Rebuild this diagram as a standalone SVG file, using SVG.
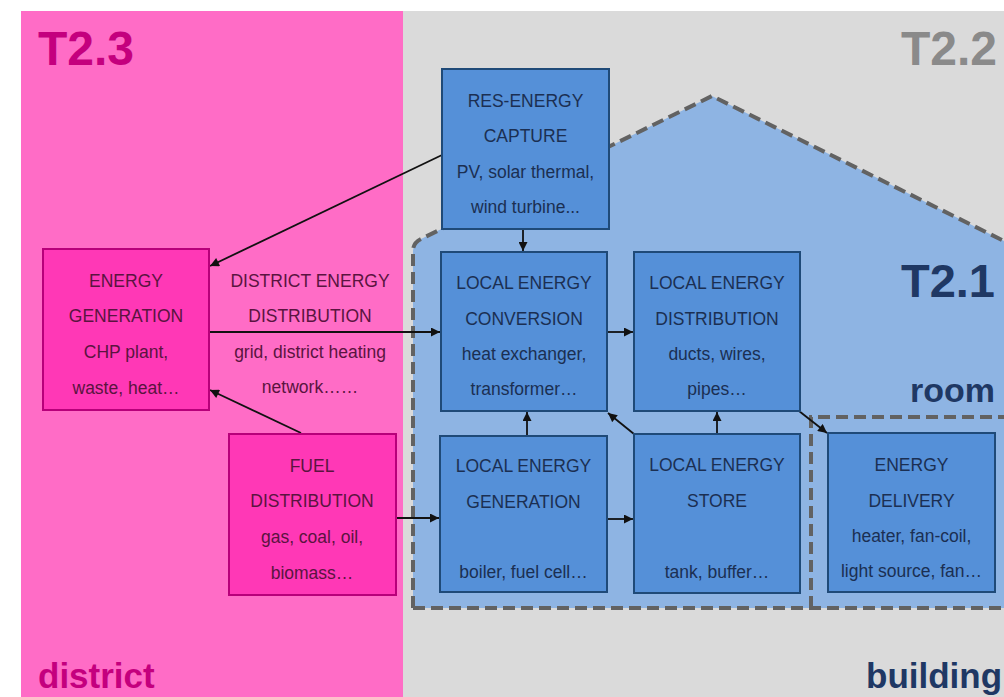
<svg xmlns="http://www.w3.org/2000/svg" width="1004" height="697" viewBox="0 0 1004 697">
<style>
.bt{font-family:"Liberation Sans",Arial,sans-serif;font-size:17.5px;text-anchor:middle}
.blue{fill:#5590d8;stroke:#1f4a78;stroke-width:2}
.pink{fill:#ff38b6;stroke:#b8007a;stroke-width:2}
.btx{fill:#1b2f52}
.ptx{fill:#5a1440}
.big{font-family:"Liberation Sans",Arial,sans-serif;font-weight:bold}
.dash{fill:none;stroke:#626262;stroke-width:4;stroke-dasharray:12 6}
.con{fill:none;stroke:#111;stroke-width:1.8}
</style>
<defs>
<marker id="ah" viewBox="0 0 10 10" refX="10" refY="5" markerWidth="10" markerHeight="9" orient="auto" markerUnits="userSpaceOnUse">
<path d="M0,0 L10,5 L0,10 Z" fill="#111"/>
</marker>
</defs>
<g id="background">
<rect x="0" y="0" width="1004" height="697" fill="#ffffff"/>
<rect x="21" y="11" width="382" height="686" fill="#ff6cc6"/>
<rect x="403" y="11" width="601" height="686" fill="#dadada"/>
<path d="M413,608 L413,251 Q413,243 421,239 L712,96 L1012,245 L1012,608 Z" fill="#8eb4e3"/>
<path class="dash" d="M413,608 L413,251 Q413,243 421,239 L712,96 L1012,245"/>
<path class="dash" d="M413,608 L1012,608"/>
<path class="dash" d="M811,608 L811,417 L1012,417"/>
<text class="big" x="38" y="65" font-size="48" fill="#c4007e">T2.3</text>
<text class="big" x="997" y="65" font-size="48" fill="#8a8a8a" text-anchor="end">T2.2</text>
<text class="big" x="995" y="297" font-size="47" fill="#1f3864" text-anchor="end">T2.1</text>
<text class="big" x="995" y="402" font-size="34" fill="#1f3864" text-anchor="end">room</text>
<text class="big" x="38" y="688" font-size="35" fill="#c4007e">district</text>
<text class="big" x="866" y="688" font-size="35" fill="#1f3864">building</text>
</g>
<g id="connectors">
<line class="con" x1="442" y1="155" x2="210" y2="266" marker-end="url(#ah)"/>
<line class="con" x1="301" y1="433" x2="210" y2="390" marker-end="url(#ah)"/>
<line class="con" x1="210" y1="332" x2="440" y2="332" marker-end="url(#ah)"/>
<line class="con" x1="523" y1="229" x2="523" y2="251" marker-end="url(#ah)"/>
<line class="con" x1="607" y1="332" x2="633" y2="332" marker-end="url(#ah)"/>
<line class="con" x1="527" y1="436" x2="527" y2="412" marker-end="url(#ah)"/>
<line class="con" x1="717" y1="434" x2="717" y2="412" marker-end="url(#ah)"/>
<line class="con" x1="634" y1="434" x2="608" y2="413" marker-end="url(#ah)"/>
<line class="con" x1="799" y1="411" x2="827" y2="433" marker-end="url(#ah)"/>
<line class="con" x1="396" y1="518" x2="439" y2="518" marker-end="url(#ah)"/>
<line class="con" x1="607" y1="519" x2="633" y2="519" marker-end="url(#ah)"/>
<g id="district-energy-distribution-label" class="bt ptx">
<text x="310" y="287">DISTRICT ENERGY</text>
<text x="310" y="322">DISTRIBUTION</text>
<text x="310" y="358">grid, district heating</text>
<text x="310" y="393">network……</text>
</g>
</g>
<g id="energy-generation">
<rect class="pink" x="43" y="249" width="166" height="161"/>
<g class="bt ptx">
<text x="126" y="287">ENERGY</text>
<text x="126" y="322">GENERATION</text>
<text x="126" y="358">CHP plant,</text>
<text x="126" y="394">waste, heat…</text>
</g>
</g>
<g id="fuel-distribution">
<rect class="pink" x="229" y="434" width="167" height="161"/>
<g class="bt ptx">
<text x="312" y="472">FUEL</text>
<text x="312" y="507">DISTRIBUTION</text>
<text x="312" y="543">gas, coal, oil,</text>
<text x="312" y="579">biomass…</text>
</g>
</g>
<g id="res-energy-capture">
<rect class="blue" x="442" y="69" width="167" height="160"/>
<g class="bt btx">
<text x="525.5" y="107">RES-ENERGY</text>
<text x="525.5" y="142">CAPTURE</text>
<text x="525.5" y="178">PV, solar thermal,</text>
<text x="525.5" y="213">wind turbine...</text>
</g>
</g>
<g id="local-energy-conversion">
<rect class="blue" x="441" y="252" width="166" height="159"/>
<g class="bt btx">
<text x="524" y="289">LOCAL ENERGY</text>
<text x="524" y="325">CONVERSION</text>
<text x="524" y="360">heat exchanger,</text>
<text x="524" y="395">transformer…</text>
</g>
</g>
<g id="local-energy-distribution">
<rect class="blue" x="634" y="252" width="166" height="159"/>
<g class="bt btx">
<text x="717" y="289">LOCAL ENERGY</text>
<text x="717" y="325">DISTRIBUTION</text>
<text x="717" y="360">ducts, wires,</text>
<text x="717" y="395">pipes…</text>
</g>
</g>
<g id="local-energy-generation">
<rect class="blue" x="440" y="436" width="167" height="156"/>
<g class="bt btx">
<text x="523.5" y="472">LOCAL ENERGY</text>
<text x="523.5" y="508">GENERATION</text>
<text x="523.5" y="578">boiler, fuel cell…</text>
</g>
</g>
<g id="local-energy-store">
<rect class="blue" x="634" y="434" width="166" height="159"/>
<g class="bt btx">
<text x="717" y="471">LOCAL ENERGY</text>
<text x="717" y="507">STORE</text>
<text x="717" y="578">tank, buffer…</text>
</g>
</g>
<g id="energy-delivery">
<rect class="blue" x="828" y="433" width="167" height="159"/>
<g class="bt btx">
<text x="911.5" y="471">ENERGY</text>
<text x="911.5" y="507">DELIVERY</text>
<text x="911.5" y="542">heater, fan-coil,</text>
<text x="911.5" y="577">light source, fan…</text>
</g>
</g>
</svg>
